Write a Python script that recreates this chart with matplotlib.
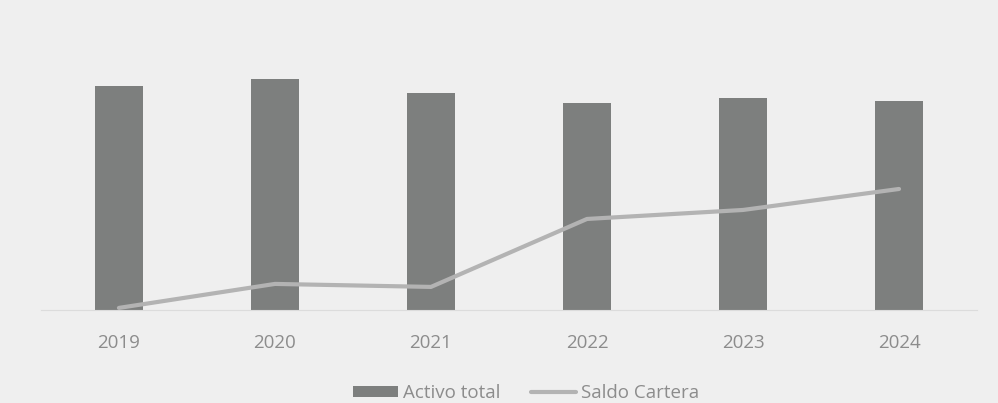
import matplotlib.pyplot as plt
import numpy as np

years = ['2019', '2020', '2021', '2022', '2023', '2024']
activo_total = [224, 231, 217, 207, 212, 209]
saldo_cartera = [2, 26, 23, 91, 100, 121]

plt.rcParams['font.family'] = ['Open Sans', 'DejaVu Sans']

fig = plt.figure(figsize=(9.98, 4.03), dpi=100, facecolor='#efefef')
ax = fig.add_axes([0.041, 0.231, 0.938, 0.62])
ax.set_facecolor('#efefef')

x = np.arange(len(years))
bars = ax.bar(x, activo_total, width=0.31, color='#7d7f7e', label='Activo total', zorder=2)
line, = ax.plot(x, saldo_cartera, color='#b3b3b3', linewidth=3, label='Saldo Cartera',
                solid_capstyle='round', zorder=3)

ax.set_xlim(-0.5, 5.5)
ax.set_ylim(0, 250)
ax.set_xticks(x)
ax.set_xticklabels(years, color='#8c8c8c', fontsize=13.5)
ax.tick_params(axis='x', length=0, pad=17)
ax.set_yticks([])
for s in ['top', 'right', 'left']:
    ax.spines[s].set_visible(False)
ax.spines['bottom'].set_color('#dcdcdc')

leg = fig.legend([bars, line], ['Activo total', 'Saldo Cartera'],
                 loc='center', bbox_to_anchor=(0.527, 0.025), ncol=2, frameon=False,
                 fontsize=13.5, handlelength=2.4, handleheight=0.5,
                 columnspacing=1.6, handletextpad=0.3)
for t in leg.get_texts():
    t.set_color('#8c8c8c')

fig.savefig('out.png', dpi=100, facecolor=fig.get_facecolor())
